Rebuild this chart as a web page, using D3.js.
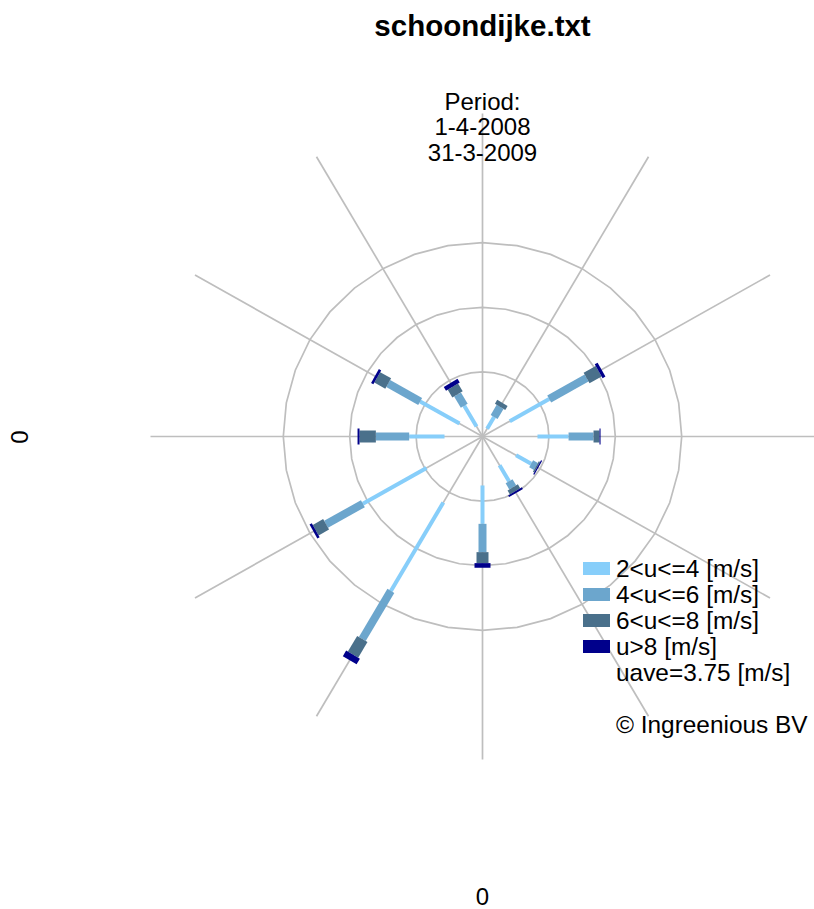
<!DOCTYPE html>
<html>
<head>
<meta charset="utf-8">
<script src="https://cdn.jsdelivr.net/npm/d3@7"></script>
<style>
  html, body { margin: 0; padding: 0; background: #fff; }
  svg { display: block; font-family: "Liberation Sans", Arial, Helvetica, sans-serif; }
</style>
</head>
<body>
<svg id="chart" width="814" height="909"></svg>
<script>
// ---- data (frequency %, per wind direction, degrees clockwise from north) ----
const directions = [0, 30, 60, 90, 120, 150, 180, 210, 240, 270, 300, 330];
const calm   = [0, 0.70, 2.37, 4.14, 2.92, 2.57, 3.79, 5.90, 4.87, 2.86, 2.00, 0.90]; // u<=2 (not drawn, offsets bar)
const u2to4  = [0, 1.05, 3.43, 2.34, 1.31, 1.43, 2.97, 7.90, 5.53, 2.66, 3.42, 1.85];
const u4to6  = [0, 0.90, 3.25, 1.88, 0.41, 0.55, 2.19, 4.30, 3.20, 2.51, 2.78, 1.01];
const u6to8  = [0, 0.35, 1.05, 0.45, 0.11, 0.35, 0.85, 1.40, 0.90, 1.23, 0.95, 0.70];
const u8up   = [0, 0.00, 0.25, 0.08, 0.10, 0.15, 0.36, 0.50, 0.20, 0.15, 0.20, 0.34];
const classLabels = ["2<u<=4 [m/s]", "4<u<=6 [m/s]", "6<u<=8 [m/s]", "u>8 [m/s]"];
const classColors = ["#87CEFA", "#6CA6CD", "#4A708B", "#00008B"];
const ringValues = [5, 10, 15];
const spokeMax = 25;
const title = "schoondijke.txt";
const periodLines = ["Period:", "1-4-2008", "31-3-2009"];
const uaveText = "uave=3.75 [m/s]";
const copyright = "\u00A9 Ingreenious BV";
const axisLabelX = "0", axisLabelY = "0";

// ---- layout ----
const cx = 482.5, cy = 436.5;
const rx = d3.scaleLinear().domain([0, spokeMax]).range([0, 332]);
const ry = d3.scaleLinear().domain([0, spokeMax]).range([0, 323]);
const classWidths = [4, 8, 12, 16];
const svg = d3.select("#chart");

function pt(deg, r) {
  const a = deg * Math.PI / 180;
  return [cx + rx(r) * Math.sin(a), cy - ry(r) * Math.cos(a)];
}

// rings (36-gon like the original)
const ringLine = d3.line();
ringValues.forEach(v => {
  const pts = d3.range(0, 361, 10).map(d => pt(d + 90, v));
  svg.append("path").attr("d", ringLine(pts))
    .attr("fill", "none").attr("stroke", "#BEBEBE").attr("stroke-width", 1.7);
});
// spokes
directions.forEach(d => {
  const p0 = pt(d, 0), p1 = pt(d, spokeMax);
  svg.append("line").attr("x1", p0[0]).attr("y1", p0[1]).attr("x2", p1[0]).attr("y2", p1[1])
    .attr("stroke", "#BEBEBE").attr("stroke-width", 1.7);
});

// bars
const classes = [u2to4, u4to6, u6to8, u8up];
directions.forEach((d, i) => {
  let start = calm[i];
  classes.forEach((arr, k) => {
    const end = start + arr[i];
    if (arr[i] > 0) {
      const p0 = pt(d, start), p1 = pt(d, end);
      svg.append("line").attr("x1", p0[0]).attr("y1", p0[1]).attr("x2", p1[0]).attr("y2", p1[1])
        .attr("stroke", classColors[k]).attr("stroke-width", classWidths[k]).attr("stroke-linecap", "butt");
    }
    start = end;
  });
});

// title
svg.append("text").attr("x", cx).attr("y", 36).attr("text-anchor", "middle")
  .attr("font-size", 29.5).attr("font-weight", "bold").text(title);
// period
periodLines.forEach((t, i) => {
  svg.append("text").attr("x", cx).attr("y", 109.5 + i * 25.8).attr("text-anchor", "middle")
    .attr("font-size", 24).text(t);
});
// axis labels
svg.append("text").attr("x", cx).attr("y", 905).attr("text-anchor", "middle")
  .attr("font-size", 24).text(axisLabelX);
svg.append("text").attr("transform", "translate(28,437) rotate(-90)").attr("text-anchor", "middle")
  .attr("font-size", 24).text(axisLabelY);

// legend
const lg = svg.append("g");
classLabels.forEach((t, i) => {
  lg.append("rect").attr("x", 583).attr("y", 562 + i * 26).attr("width", 27).attr("height", 13)
    .attr("fill", classColors[i]);
  lg.append("text").attr("x", 616).attr("y", 577 + i * 26).attr("font-size", 24.4).text(t);
});
lg.append("text").attr("x", 616).attr("y", 681).attr("font-size", 24.4).text(uaveText);
lg.append("text").attr("x", 616).attr("y", 733).attr("font-size", 24.4).text(copyright);
</script>
</body>
</html>
